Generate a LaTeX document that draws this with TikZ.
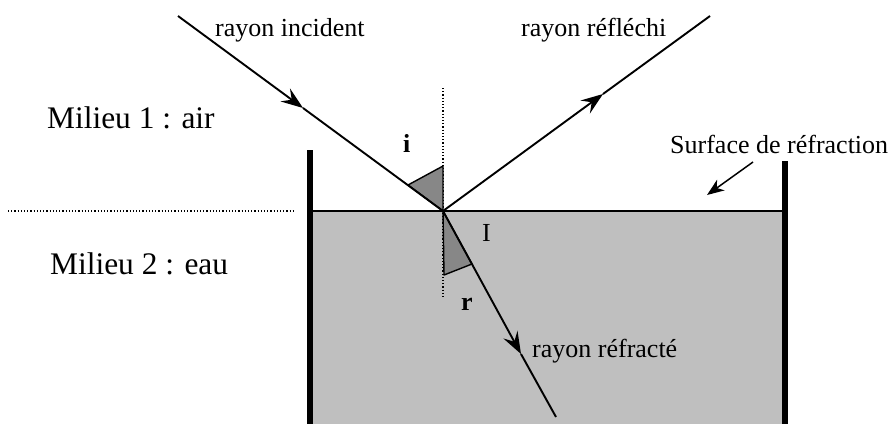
\documentclass[tikz,border=0pt]{standalone}
\usepackage{fontspec}
\setmainfont{Liberation Serif}
\usetikzlibrary{arrows.meta}
\begin{document}
\begin{tikzpicture}[x=1pt, y=-1pt]
        \tikzstyle{ray}=[line width=1.9pt]
        \tikzstyle{raytip}=[ray, -{Stealth[length=22pt, width=16pt, inset=8pt]}]
        \tikzstyle{wall}=[line width=6pt]
        \tikzstyle{raytext}=[font=\fontsize{26}{30}\selectfont, inner sep=0pt, anchor=base west]
        \tikzstyle{milieu}=[font=\fontsize{31.4}{36}\selectfont, inner sep=0pt, anchor=base west]
        \tikzstyle{anglemark}=[draw, line width=1.4pt, fill=black!47, line join=round]
        \useasboundingbox (0,0) rectangle (893,424);

        % Eau dans la cuve
        \fill[black!25] (313,211) rectangle (782,424);
        \draw[line width=1.3pt] (313,211) -- (782,211);
        \draw[wall] (310,150) -- (310,424);
        \draw[wall] (785,161) -- (785,424);
        \draw[dotted, line width=1.2pt] (8,211) -- (295,211);

        % Point d'incidence et normale
        \coordinate (I) at (443,211);
        \draw[dotted, line width=1.2pt] (443,88) -- (443,298);

        % Angles i et r
        \draw[anglemark] (I) -- (443,166) -- (408,185) -- cycle;
        \draw[anglemark] (I) -- (444,275) -- (472,264) -- cycle;

        % Rayons
        \coordinate (incstart) at (178,16);
        \coordinate (incmid) at (303,108);
        \coordinate (refmid) at (603,94);
        \coordinate (refend) at (710,16);
        \coordinate (refrmid) at (521,354);
        \coordinate (refrend) at (556,417);
        \draw[raytip] (incstart) -- (incmid);
        \draw[ray] (incmid) -- (I);
        \draw[raytip] (I) -- (refmid);
        \draw[ray] (refmid) -- (refend);
        \draw[raytip] (I) -- (refrmid);
        \draw[ray] (refrmid) -- (refrend);

        % Textes
        \node[raytext] (incident) at (215,36) {rayon incident};
        \node[raytext] (reflechi) at (521,36) {rayon réfléchi};
        \node[raytext] (refracte) at (532,357) {rayon réfracté};
        \node[raytext] (surface) at (670,153) {Surface de réfraction};
        \node[milieu] (air) at (47,128) {Milieu 1 : air};
        \node[milieu] (eau) at (50,274) {Milieu 2 : eau};
        \node[raytext] (anglei) at (403,152) {\textbf{i}};
        \node[raytext] (pointI) at (482,241) {I};
        \node[raytext] (angler) at (461,310) {\textbf{r}};

        % Fleche vers la surface
        \coordinate (surfstart) at (753,162);
        \coordinate (surftip) at (707,195);
        \draw[line width=1.5pt, -{Stealth[length=17pt, width=13pt, inset=5pt]}] (surfstart) -- (surftip);
\end{tikzpicture}
\end{document}
